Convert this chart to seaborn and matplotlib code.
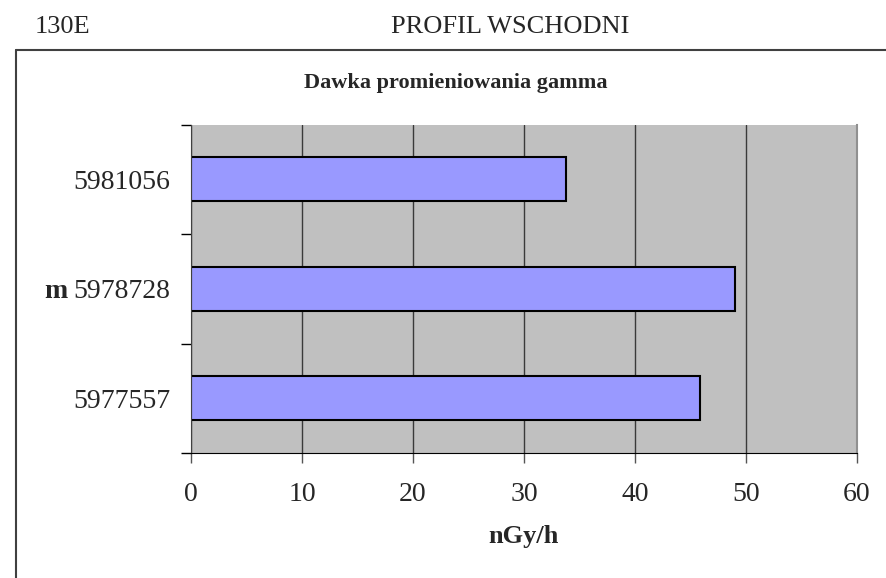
import matplotlib
matplotlib.use("Agg")
import matplotlib.pyplot as plt
from matplotlib.lines import Line2D
import seaborn as sns

# data
stations = ["5981056", "5978728", "5977557"]
dose = [33.8, 49.0, 45.9]
x_ticks = [0, 10, 20, 30, 40, 50, 60]

sns.set_style("white")
plt.rcParams["font.family"] = ["Liberation Serif", "DejaVu Serif"]

fig = plt.figure(figsize=(8.87, 5.78), dpi=100)
ax = fig.add_axes([191 / 887, (578 - 453) / 578, 666 / 887, (453 - 124.5) / 578])

sns.barplot(x=dose, y=stations, orient="h", color="#9999FF", saturation=1,
            width=0.40, edgecolor="black", linewidth=1.5, ax=ax)

ax.set_facecolor("#C0C0C0")
ax.set_xlim(0, 60)
ax.set_ylim(2.5, -0.5)
ax.set_xticks(x_ticks)
ax.set_xticklabels([str(t) for t in x_ticks], fontsize=20)
ax.xaxis.grid(True, color="#3a3a3a", linewidth=1.0)
ax.yaxis.grid(False)
ax.set_axisbelow(True)

# excel-like ticks: y ticks at category boundaries
ax.set_yticks([0, 1, 2])
ax.set_yticklabels(stations, fontsize=20)
ax.set_yticks([-0.5, 0.5, 1.5, 2.5], minor=True)
ax.tick_params(axis="y", which="major", length=0, pad=15)
ax.tick_params(axis="y", which="minor", length=7, width=1, color="black", left=True)
ax.tick_params(axis="x", which="major", length=7, width=1, color="#555555", bottom=True, pad=14)

ax.spines["top"].set_visible(False)
ax.spines["right"].set_color("#909090")
ax.spines["right"].set_linewidth(1.5)
ax.spines["left"].set_color("#404040")
ax.spines["bottom"].set_color("black")
for s in ax.spines.values():
    s.set_zorder(5)

ax.set_xlabel("nGy/h", fontsize=19, fontweight="bold", labelpad=13)
ax.set_ylabel("")
ax.set_title("Dawka promieniowania gamma", fontsize=16, fontweight="bold",
             pad=26, x=(456 - 191) / 666)

# bold "m" prefix for the middle station
fig.canvas.draw()
lab = ax.get_yticklabels()[1]
bb = lab.get_window_extent()
inv = fig.transFigure.inverted()
x0, y0 = inv.transform((bb.x0 - 6, (bb.y0 + bb.y1) / 2))
fig.text(x0, y0, "m", fontsize=20, fontweight="bold", ha="right", va="center")

# page headers and chart frame
fig.text(35 / 887, 1 - 27 / 578, "130E", fontsize=19, ha="left", va="center")
fig.text(510 / 887, 1 - 27 / 578, "PROFIL WSCHODNI", fontsize=19, ha="center", va="center")
fig.add_artist(Line2D([16 / 887, 16 / 887], [0, 1 - 50 / 578], color="#404040", lw=1.5))
fig.add_artist(Line2D([16 / 887, 1], [1 - 50 / 578, 1 - 50 / 578], color="#404040", lw=1.5))

fig.savefig("out.png", dpi=100)
